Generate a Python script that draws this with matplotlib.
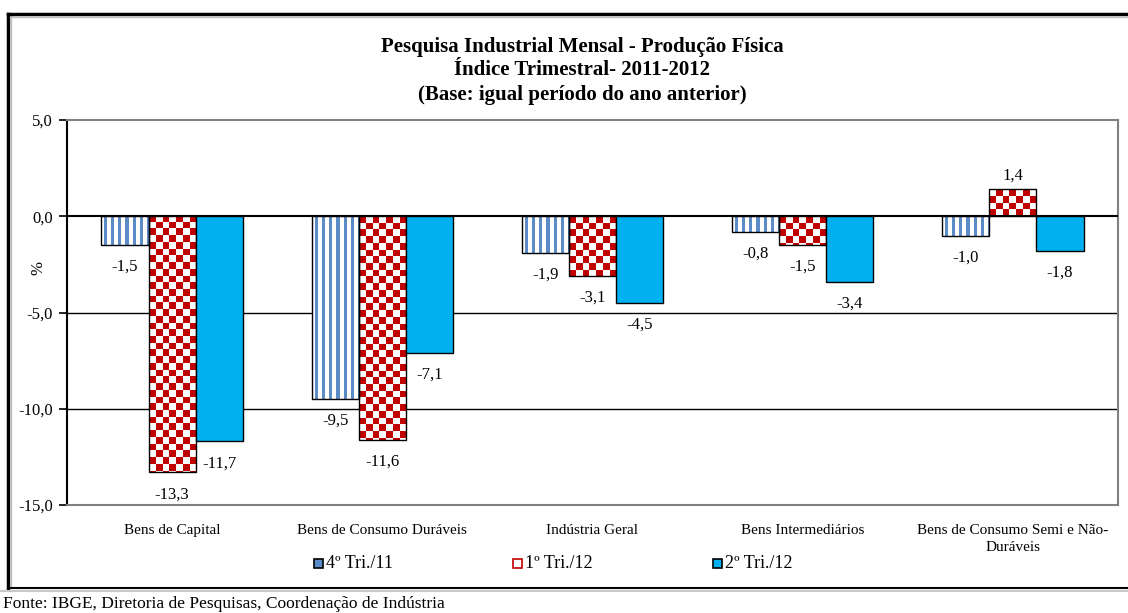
import math
import numpy as np
import matplotlib
matplotlib.use("Agg")
import matplotlib.pyplot as plt
from matplotlib.patches import Rectangle
from matplotlib.lines import Line2D
from matplotlib.ticker import FuncFormatter

plt.rcParams['font.family'] = ['Liberation Serif', 'DejaVu Serif']

categorias = ["Bens de Capital", "Bens de Consumo Duráveis", "Indústria Geral",
              "Bens Intermediários", "Bens de Consumo Semi e Não-\nDuráveis"]
series = ["4º Tri./11", "1º Tri./12", "2º Tri./12"]
tri4_11 = [-1.5, -9.5, -1.9, -0.8, -1.0]
tri1_12 = [-13.3, -11.6, -3.1, -1.5, 1.4]
tri2_12 = [-11.7, -7.1, -4.5, -3.4, -1.8]
valores = [tri4_11, tri1_12, tri2_12]
yticks = [5, 0, -5, -10, -15]

AZUL = "#5b8bc9"
VERMELHO = "#c00000"
CIANO = "#00b0f0"

fig = plt.figure(figsize=(11.28, 6.13), dpi=100)
W, H = 1128, 613
ax = fig.add_axes([67 / W, 1 - 505 / H, (1118 - 67) / W, (505 - 120) / H])
ax.set_xlim(-0.5, 4.5)
ax.set_ylim(-15, 5)

# px por unidade
px_x = (1118 - 67) / 5.0
px_y = (505 - 120) / 20.0

largura = 0.224
x = np.arange(len(categorias))

# grade
for v in [0, -5, -10]:
    ax.axhline(v, color="black", lw=1.5 if v == 0 else 1.0, zorder=1 if v else 5)


def xadrez(bar, cell=6.7):
    x0, w, h = bar.get_x(), bar.get_width(), bar.get_height()
    nx = int(math.ceil(w * px_x / cell)) + 1
    ny = int(math.ceil(abs(h) * px_y / cell)) + 1
    img = np.ones((ny, nx, 3))
    red = np.array([0xc0, 0, 0]) / 255.0
    for i in range(ny):
        for j in range(nx):
            if (i + j) % 2 == 0:
                img[i, j] = red
    cx, cy = cell / px_x, cell / px_y
    if h < 0:
        ext = [x0, x0 + nx * cx, -ny * cy, 0]
    else:
        ext = [x0, x0 + nx * cx, 0, ny * cy]
        img = img[::-1]
    im = ax.imshow(img, extent=ext, aspect="auto", interpolation="nearest", zorder=2)
    im.set_clip_path(bar)


def listras(bar):
    x0, w, h = bar.get_x(), bar.get_width(), bar.get_height()
    nx = int(math.ceil(w * px_x)) + 1
    img = np.ones((1, nx, 3))
    blue = np.array([0x5b, 0x8b, 0xc9]) / 255.0
    for j in range(nx):
        if j % 7 >= 3 and j % 7 <= 5:
            img[0, j] = blue
    ext = [x0, x0 + nx / px_x, min(h, 0), max(h, 0)]
    im = ax.imshow(img, extent=ext, aspect="auto", interpolation="nearest", zorder=2)
    im.set_clip_path(bar)


for k, vals in enumerate(valores):
    pos = x + (k - 1) * largura
    cor = "white" if k < 2 else CIANO
    bars = ax.bar(pos, vals, largura, color=cor, edgecolor="black", lw=1.0, zorder=3)
    for b, v in zip(bars, vals):
        if k == 0:
            b.set_facecolor("none")
            listras(b)
        elif k == 1:
            b.set_facecolor("none")
            xadrez(b)
        off = -22 if v < 0 else 14
        ax.annotate(f"{v:.1f}".replace(".", ","), (b.get_x() + b.get_width() / 2, v),
                    xytext=(0, off), textcoords="offset pixels", ha="center", va="center",
                    fontsize=12, zorder=6)

ax.set_xlim(-0.5, 4.5)
ax.set_ylim(-15, 5)
ax.set_yticks(yticks)
ax.yaxis.set_major_formatter(FuncFormatter(lambda v, p: f"{v:.1f}".replace(".", ",")))
ax.set_xticks(x)
ax.set_xticklabels(categorias, fontsize=11, linespacing=1.35)
ax.tick_params(axis="x", length=0, pad=14)
ax.tick_params(axis="y", length=6, width=1.2, labelsize=12, pad=4)
fig.text(38 / W, 1 - 268 / H, "%", rotation=90, ha="center", va="center", fontsize=12)

for s in ["top", "right", "bottom"]:
    ax.spines[s].set_color("#808080")
    ax.spines[s].set_linewidth(1.5)
ax.spines["left"].set_linewidth(1.5)

fig.text(582 / W, 1 - 47 / H, "Pesquisa Industrial Mensal - Produção Física",
         ha="center", va="center", fontsize=15, fontweight="bold")
fig.text(582 / W, 1 - 70 / H, "Índice Trimestral- 2011-2012",
         ha="center", va="center", fontsize=15, fontweight="bold")
fig.text(582 / W, 1 - 95 / H, "(Base: igual período do ano anterior)",
         ha="center", va="center", fontsize=15, fontweight="bold")

# legenda
leg_x = [314, 513, 713]
faces = [AZUL, "white", CIANO]
edges = ["black", VERMELHO, "black"]
for lx, nome, fc, ec in zip(leg_x, series, faces, edges):
    fig.patches.append(Rectangle((lx / W, 1 - 568 / H), 9 / W, 9 / H, facecolor=fc,
                                 edgecolor=ec, lw=1.2, transform=fig.transFigure))
    fig.text((lx + 12) / W, 1 - 563 / H, nome, ha="left", va="center", fontsize=13)

# moldura
fig.add_artist(Line2D([8 / W, 8 / W], [1 - 14 / H, 1 - 588 / H], color="black", lw=2.5))
fig.add_artist(Line2D([10.5 / W, 10.5 / W], [1 - 16 / H, 1 - 586 / H], color="#c0c0c0", lw=1))
fig.add_artist(Line2D([8 / W, 1], [1 - 14 / H, 1 - 14 / H], color="black", lw=2.5))
fig.add_artist(Line2D([10 / W, 1], [1 - 16.5 / H, 1 - 16.5 / H], color="#c0c0c0", lw=1))
fig.add_artist(Line2D([8 / W, 1], [1 - 588 / H, 1 - 588 / H], color="black", lw=1.5))
fig.add_artist(Line2D([0, 1], [1 - 591 / H, 1 - 591 / H], color="#c8c8c8", lw=1.5))

fig.text(3 / W, 1 - 604 / H, "Fonte: IBGE, Diretoria de Pesquisas, Coordenação de Indústria",
         ha="left", va="center", fontsize=12.5)

fig.savefig("out.png", dpi=100)
